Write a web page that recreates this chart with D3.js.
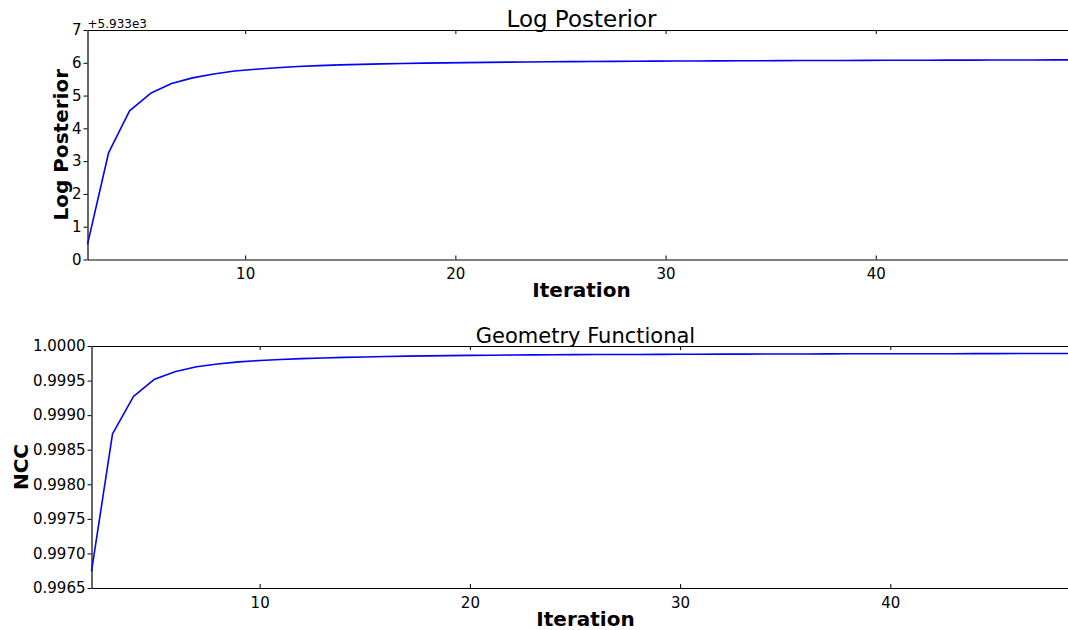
<!DOCTYPE html>
<html>
<head>
<meta charset="utf-8">
<script src="https://cdn.jsdelivr.net/npm/d3@7"></script>
<style>
  html, body { margin: 0; padding: 0; background: #fff; overflow: hidden; }
  svg { display: block; font-family: "DejaVu Sans", sans-serif; }
</style>
</head>
<body>
<svg id="chart" width="1068" height="630"></svg>
<script>
// Log posterior, stored relative to the axis offset (+5.933e3)
const lpOffset = 5933;
const lpIter = [2.5, 3.5, 4.5, 5.5, 6.5, 7.5, 8.5, 9.5, 10.5, 11.5, 12.5, 13.5, 14.5, 15.5, 16.5, 17.5,
  18.5, 19.5, 20.5, 21.5, 22.5, 23.5, 24.5, 25.5, 26.5, 27.5, 28.5, 29.5, 30.5, 31.5, 32.5, 33.5,
  34.5, 35.5, 36.5, 37.5, 38.5, 39.5, 40.5, 41.5, 42.5, 43.5, 44.5, 45.5, 46.5, 47.5, 48.5, 49.5];
const lpValue = [0.46, 3.25, 4.53, 5.07, 5.37, 5.54, 5.66, 5.75, 5.805, 5.85, 5.885, 5.913, 5.935, 5.953,
  5.967, 5.979, 5.989, 5.998, 6.006, 6.013, 6.019, 6.025, 6.030, 6.035, 6.039, 6.043, 6.047, 6.050,
  6.053, 6.056, 6.059, 6.062, 6.064, 6.066, 6.068, 6.070, 6.072, 6.074, 6.076, 6.078, 6.079, 6.081,
  6.082, 6.084, 6.085, 6.087, 6.088, 6.090];
const lpYTicks = [0, 1, 2, 3, 4, 5, 6, 7];

// Geometry functional (normalised cross-correlation)
const nccIter = [2, 3, 4, 5, 6, 7, 8, 9, 10, 11, 12, 13, 14, 15, 16, 17, 18, 19, 20, 21, 22, 23, 24, 25,
  26, 27, 28, 29, 30, 31, 32, 33, 34, 35, 36, 37, 38, 39, 40, 41, 42, 43, 44, 45, 46, 47, 48, 49];
const nccValue = [0.996740, 0.998730, 0.999270, 0.999520, 0.999630, 0.999700, 0.999740, 0.999770,
  0.999790, 0.999805, 0.999817, 0.999827, 0.999835, 0.999842, 0.999848, 0.999853, 0.999857, 0.999861,
  0.999864, 0.999867, 0.999869, 0.999871, 0.999873, 0.999875, 0.999876, 0.999877, 0.999878, 0.999879,
  0.999880, 0.999881, 0.999882, 0.999883, 0.999884, 0.999885, 0.999885, 0.999886, 0.999887, 0.999887,
  0.999888, 0.999888, 0.999889, 0.999889, 0.999890, 0.999890, 0.999891, 0.999891, 0.999892, 0.999892];
const nccYTicks = [0.9965, 0.9970, 0.9975, 0.9980, 0.9985, 0.9990, 0.9995, 1.0000];

const xTicks = [10, 20, 30, 40];

const svg = d3.select("#chart");

function panel(cfg) {
  const x = d3.scaleLinear().domain(cfg.xDomain).range([cfg.left, cfg.right]);
  const y = d3.scaleLinear().domain(cfg.yDomain).range([cfg.bottom, cfg.top]);
  const g = svg.append("g");

  // bottom axis: ticks point into the plot
  const xb = g.append("g").attr("transform", `translate(0,${cfg.bottom})`)
    .call(d3.axisBottom(x).tickValues(xTicks).tickSizeInner(-4).tickSizeOuter(0).tickPadding(9).tickFormat(d3.format("d")));
  // top axis: ticks only
  const xt = g.append("g").attr("transform", `translate(0,${cfg.top})`)
    .call(d3.axisTop(x).tickValues(xTicks).tickSizeInner(-4).tickSizeOuter(0).tickFormat(""));
  // left axis: outward ticks
  const yl = g.append("g").attr("transform", `translate(${cfg.left},0)`)
    .call(d3.axisLeft(y).tickValues(cfg.yTicks).tickSizeInner(4).tickSizeOuter(0).tickPadding(2).tickFormat(cfg.yFormat));

  [xb, xt, yl].forEach(a => {
    a.select(".domain").attr("stroke", "#000").attr("stroke-width", 1.2);
    a.selectAll(".tick line").attr("stroke", "#000").attr("stroke-width", 1);
    a.selectAll(".tick text").attr("fill", "#000").attr("font-size", 15)
      .attr("font-family", "DejaVu Sans, sans-serif");
  });

  const line = d3.line().x((d, i) => x(cfg.xs[i])).y(d => y(d));
  g.append("path").datum(cfg.ys)
    .attr("fill", "none").attr("stroke", "#0000ff").attr("stroke-width", 1.6)
    .attr("stroke-linejoin", "round").attr("d", line);

  const cx = (cfg.left + cfg.right) / 2;
  g.append("text").attr("x", cx).attr("y", cfg.top - 3.5)
    .attr("text-anchor", "middle").attr("font-size", cfg.titleSize).attr("fill", "#000")
    .text(cfg.title);
  g.append("text").attr("x", cx).attr("y", cfg.bottom + 37.5)
    .attr("text-anchor", "middle").attr("font-size", 20).attr("font-weight", "bold").attr("fill", "#000")
    .text("Iteration");
  g.append("text")
    .attr("transform", `translate(${cfg.yLabelX},${(cfg.top + cfg.bottom) / 2}) rotate(-90)`)
    .attr("text-anchor", "middle").attr("font-size", 20).attr("font-weight", "bold").attr("fill", "#000")
    .text(cfg.yLabel);
  return { g, x, y };
}

const p1 = panel({
  xs: lpIter, ys: lpValue, xDomain: [2.5, 49.5], yDomain: [0, 7], yTicks: lpYTicks,
  yFormat: d3.format("d"),
  left: 87.5, right: 1075.5, top: 30, bottom: 259.5,
  title: "Log Posterior", titleSize: 23, yLabel: "Log Posterior", yLabelX: 68
});
p1.g.append("text").attr("x", 87.5).attr("y", 28).attr("font-size", 12).attr("fill", "#000")
  .text("+5.933e3");

panel({
  xs: nccIter, ys: nccValue, xDomain: [2, 49], yDomain: [0.9965, 1.0], yTicks: nccYTicks,
  yFormat: d3.format(".4f"),
  left: 91.5, right: 1079.5, top: 346, bottom: 588,
  title: "Geometry Functional", titleSize: 21, yLabel: "NCC", yLabelX: 28
});
</script>
</body>
</html>
